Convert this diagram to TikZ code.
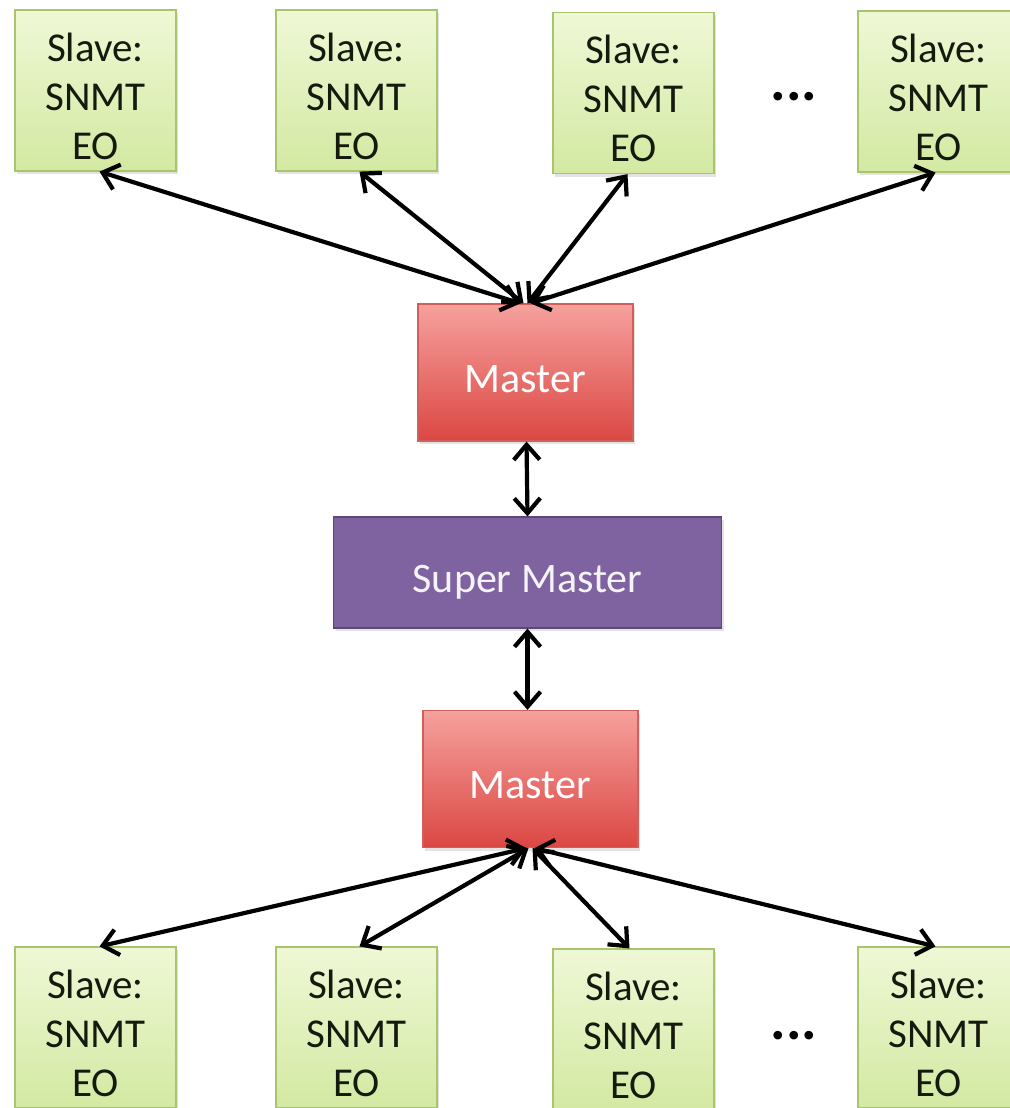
\documentclass[tikz,border=0pt]{standalone}
\usepackage{fontspec}
\setmainfont{Carlito}
\usetikzlibrary{arrows.meta,shadows}
\definecolor{slavetop}{HTML}{EFF8D6}
\definecolor{slavebot}{HTML}{D3E9A2}
\definecolor{slaveline}{HTML}{A8C46C}
\definecolor{mastertop}{HTML}{F6A19D}
\definecolor{masterbot}{HTML}{DB4743}
\definecolor{masterline}{HTML}{D0605C}
\definecolor{superfill}{HTML}{7F63A1}
\definecolor{superline}{HTML}{5E4779}
\definecolor{inktext}{HTML}{141A0E}
\begin{document}
\begin{tikzpicture}[x=1pt,y=-1pt,
  boxshadow/.style={drop shadow={opacity=0.22,shadow xshift=2pt,shadow yshift=-3pt}},
  slavebox/.style={draw=slaveline,line width=1.2pt,top color=slavetop,bottom color=slavebot,
    minimum width=161pt,minimum height=161pt,align=center,text=inktext,
    font=\fontsize{41}{49}\selectfont,boxshadow,
    text height=137pt,text depth=0pt},
  masterbox/.style={draw=masterline,line width=1.2pt,top color=mastertop,bottom color=masterbot,
    minimum width=215pt,minimum height=137pt,text=white,
    font=\fontsize{42}{50}\selectfont,boxshadow,
    text height=39pt,text depth=0pt},
  superbox/.style={draw=superline,line width=1.2pt,fill=superfill,
    minimum width=388pt,minimum height=111pt,text=white!92!superfill,
    font=\fontsize{42}{50}\selectfont,boxshadow,
    text height=39pt,text depth=0pt},
  dotsnode/.style={font=\fontsize{58}{60}\selectfont\bfseries,text=black},
  link/.style={line width=4.2pt,black,
    {Straight Barb[length=15pt,width=26pt]}-{Straight Barb[length=15pt,width=26pt]}}
]
\useasboundingbox (0,0) rectangle (1009,1108);

% top row of slaves
\node[slavebox] (t1) at (95.5,90.5)  {Slave:\\SNMT\\EO};
\node[slavebox] (t2) at (356.5,90.5) {Slave:\\SNMT\\EO};
\node[slavebox] (t3) at (633.5,93)   {Slave:\\SNMT\\EO};
\node[slavebox] (t4) at (938.5,91.5) {Slave:\\SNMT\\EO};
\node[dotsnode] (tdots) at (794,97) {...};

% masters and super master
\node[masterbox] (m1) at (525.5,372.5) {Master};
\node[superbox]  (sm) at (527.5,572.5) {Super Master};
\node[masterbox] (m2) at (530.5,779)   {Master};

% bottom row of slaves
\node[slavebox] (b1) at (95.5,1027.5)  {Slave:\\SNMT\\EO};
\node[slavebox] (b2) at (356.5,1027.5) {Slave:\\SNMT\\EO};
\node[slavebox] (b3) at (633.5,1029.5) {Slave:\\SNMT\\EO};
\node[slavebox] (b4) at (938.5,1027.5) {Slave:\\SNMT\\EO};
\node[dotsnode] (bdots) at (794,1036) {...};

% links between the top slaves and the upper master
\draw[link] ([xshift=-5pt]m1.north) -- ([xshift=4pt]t1.south);
\draw[link] ([xshift=-2pt]m1.north) -- ([xshift=3pt]t2.south);
\draw[link] ([xshift=2pt]m1.north)  -- ([xshift=-6pt]t3.south);
\draw[link] ([xshift=5pt]m1.north)  -- ([xshift=-3pt]t4.south);

% links through the super master
\draw[link] ([xshift=1pt]m1.south) -- (sm.north);
\draw[link] (sm.south) -- ([xshift=-3pt]m2.north);

% links between the lower master and the bottom slaves
\draw[link] ([xshift=-4pt]m2.south) -- ([xshift=4pt]b1.north);
\draw[link] ([xshift=-2pt]m2.south) -- ([xshift=3pt]b2.north);
\draw[link] ([xshift=2pt]m2.south)  -- ([xshift=-4pt]b3.north);
\draw[link] ([xshift=4pt]m2.south)  -- ([xshift=-3pt]b4.north);
\end{tikzpicture}
\end{document}
